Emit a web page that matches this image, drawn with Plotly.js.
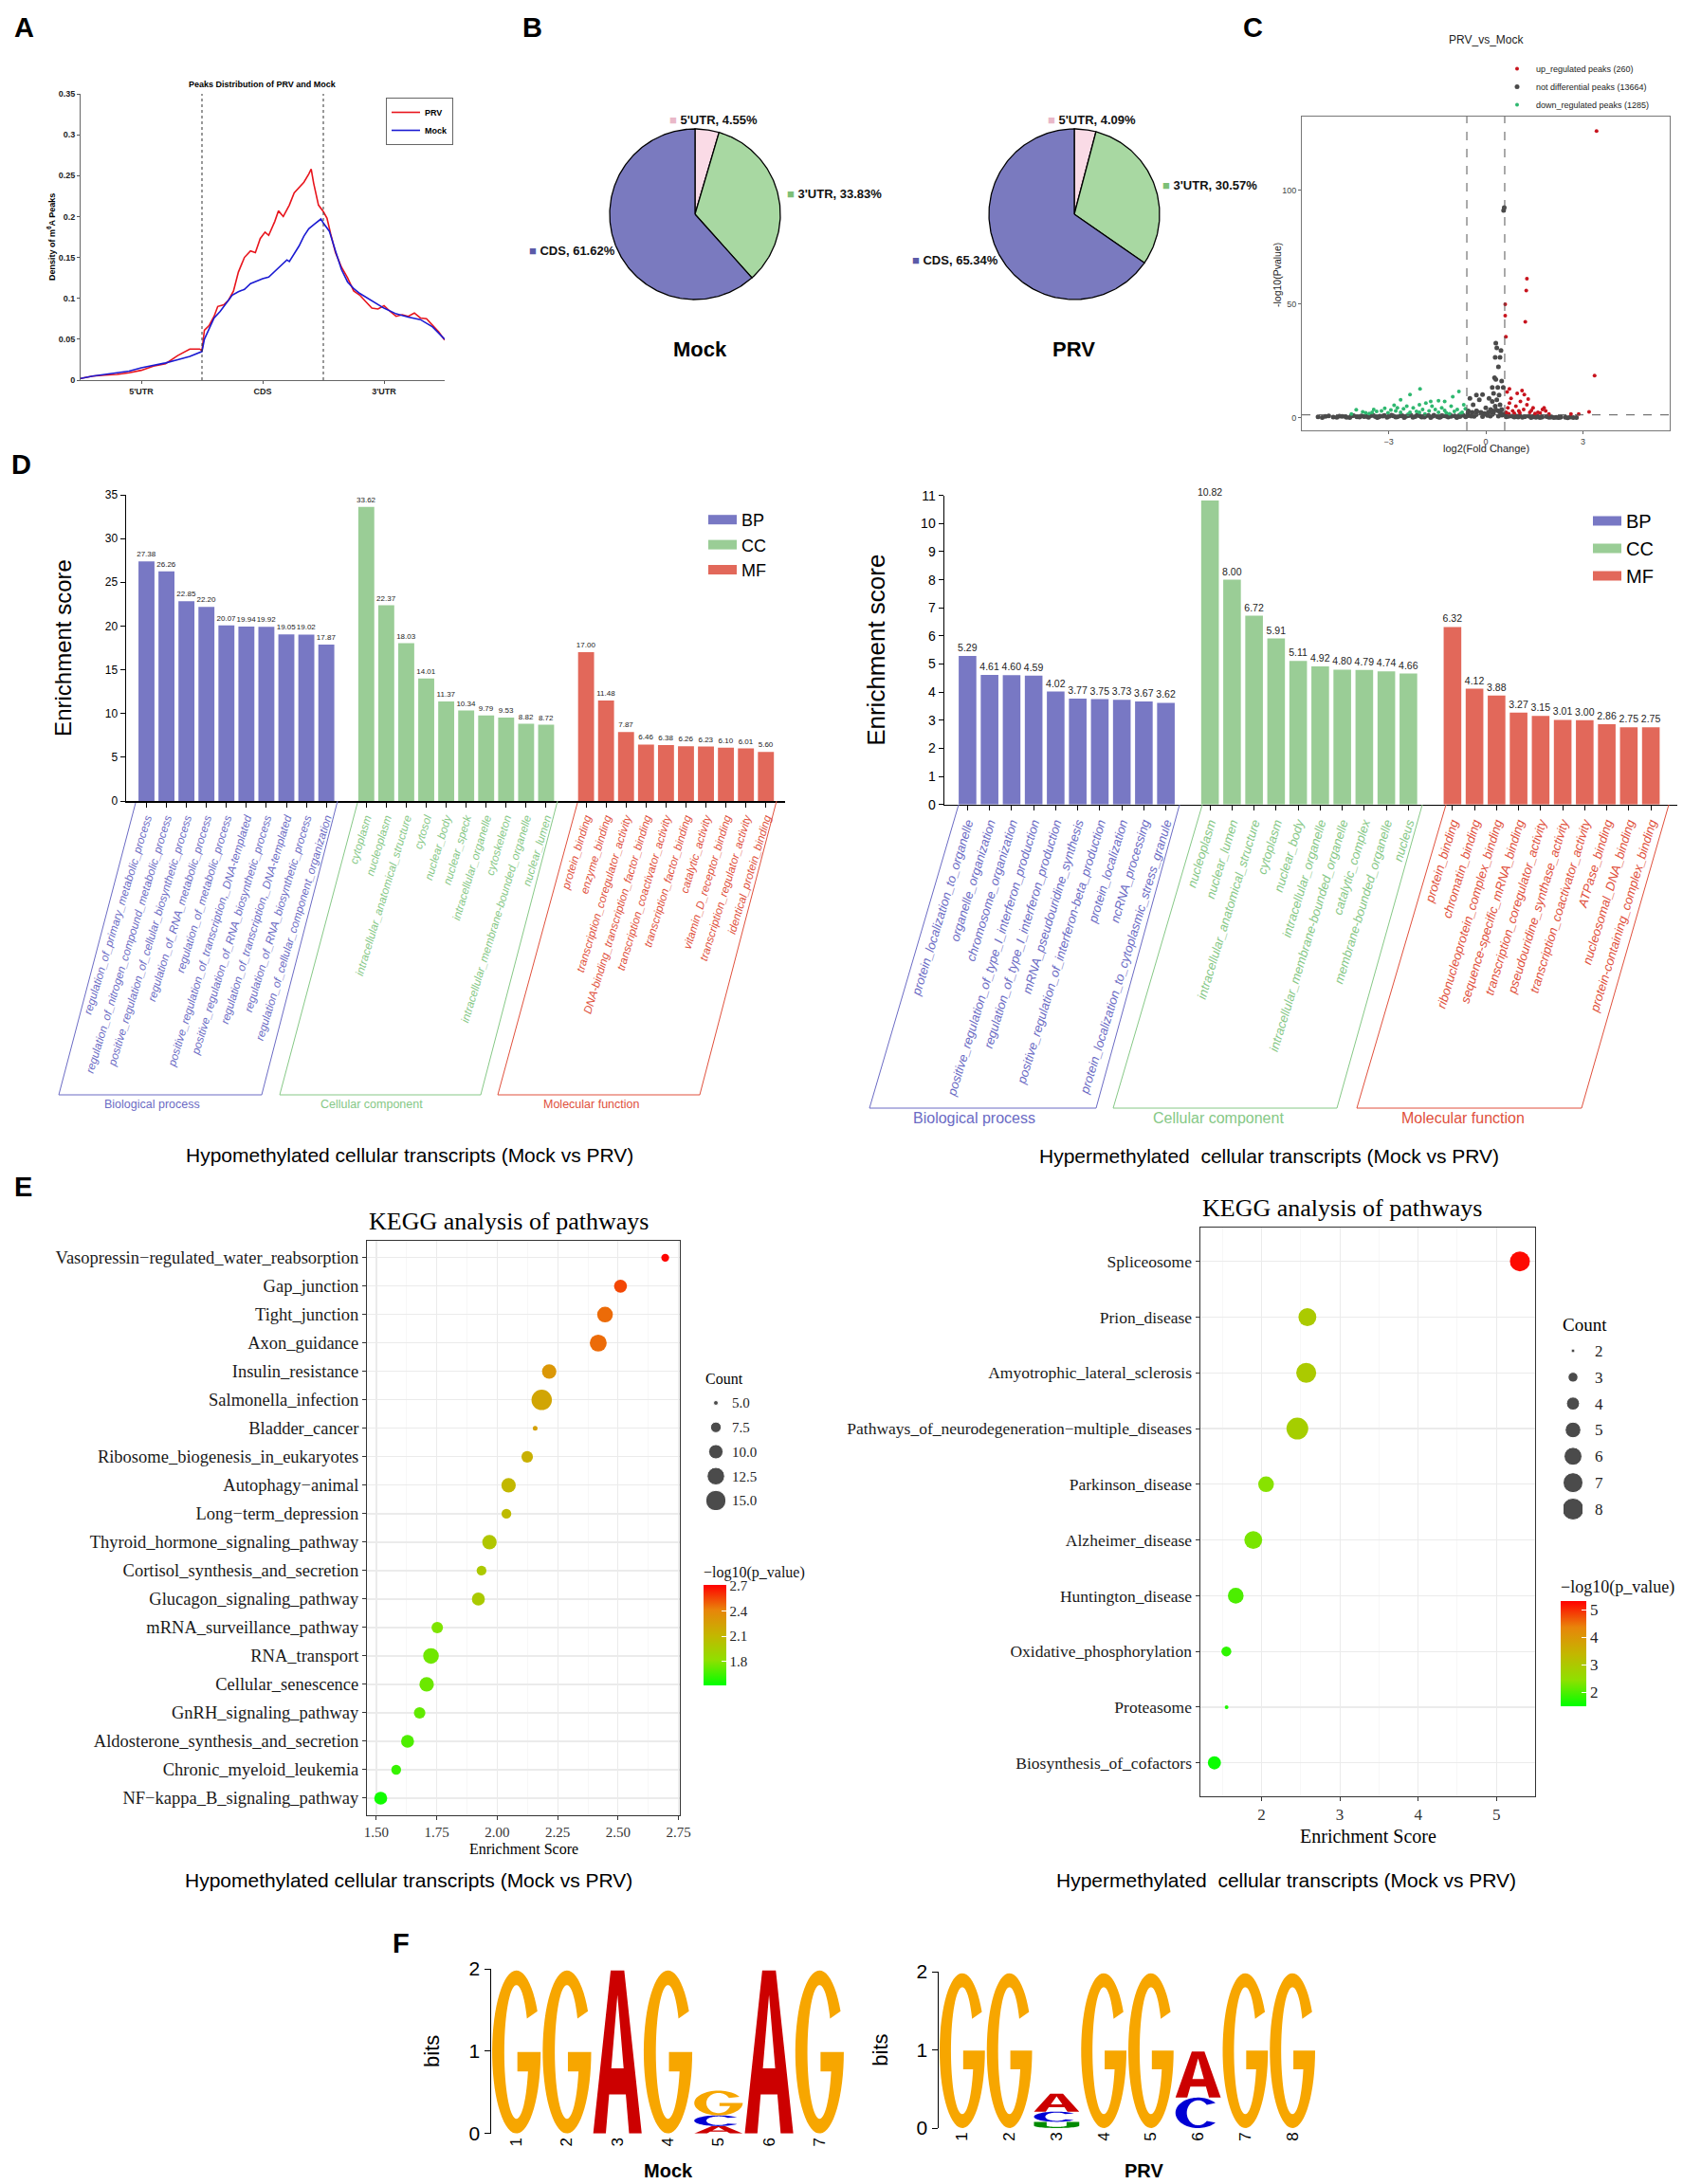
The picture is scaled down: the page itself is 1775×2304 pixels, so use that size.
<!DOCTYPE html>
<html><head><meta charset="utf-8">
<script src="https://cdn.plot.ly/plotly-3.0.1.min.js"></script>
<style>html,body{margin:0;padding:0;background:#fff}#fig{width:1775px;height:2304px}</style>
</head><body><div id="fig"></div>
<script>
// ================= DATA =================
// Panel A: m6A peak density along transcripts
const profileTickPos = [0.5, 1.5, 2.5];
const profileTickText = ["5'UTR", "CDS", "3'UTR"];
const densityTicks = [0, 0.05, 0.1, 0.15, 0.2, 0.25, 0.3, 0.35];
const prvPos = [0,0.1,0.2,0.3,0.4,0.5,0.6,0.7,0.8,0.9,0.98,1.0,1.02,1.06,1.1,1.13,1.18,1.22,1.26,1.3,1.35,1.4,1.44,1.48,1.52,1.55,1.6,1.63,1.67,1.72,1.76,1.8,1.84,1.88,1.9,1.92,1.96,2.0,2.03,2.06,2.1,2.15,2.2,2.25,2.3,2.35,2.4,2.45,2.5,2.55,2.6,2.65,2.7,2.75,2.8,2.85,2.9,2.95,3.0];
const prvDensity = [0.002,0.005,0.006,0.007,0.009,0.012,0.017,0.020,0.030,0.038,0.038,0.036,0.061,0.067,0.078,0.090,0.092,0.098,0.109,0.132,0.150,0.158,0.156,0.173,0.181,0.177,0.194,0.207,0.200,0.214,0.229,0.235,0.242,0.252,0.258,0.241,0.214,0.206,0.198,0.179,0.156,0.138,0.125,0.109,0.104,0.096,0.088,0.087,0.091,0.084,0.078,0.080,0.078,0.082,0.076,0.075,0.067,0.059,0.049];
const mockPos = [0,0.1,0.2,0.3,0.4,0.5,0.6,0.7,0.8,0.9,1.0,1.02,1.06,1.1,1.15,1.2,1.25,1.3,1.35,1.4,1.45,1.5,1.55,1.6,1.65,1.7,1.72,1.76,1.8,1.84,1.88,1.92,1.96,1.98,2.0,2.05,2.1,2.15,2.2,2.25,2.3,2.4,2.5,2.6,2.7,2.8,2.9,3.0];
const mockDensity = [0.002,0.005,0.007,0.009,0.011,0.015,0.018,0.021,0.025,0.029,0.035,0.050,0.063,0.076,0.084,0.094,0.104,0.108,0.111,0.118,0.121,0.124,0.126,0.133,0.140,0.147,0.145,0.155,0.164,0.176,0.185,0.190,0.195,0.197,0.192,0.182,0.158,0.135,0.120,0.112,0.106,0.097,0.088,0.081,0.077,0.074,0.065,0.050];

// Panel B: peak distribution pies
const regionLabels = ["5'UTR", "3'UTR", "CDS"];
const mockPct = [4.55, 33.83, 61.62];
const prvPct = [4.09, 30.57, 65.34];

// Panel C: volcano
const volcanoGroups = ['up_regulated peaks', 'not differential peaks', 'down_regulated peaks'];
const volcanoCounts = [260, 13664, 1285];
const upX = [3.42,1.27,1.25,1.22,0.60,0.60,0.62,3.36,3.19,2.87,2.63,0.73,0.97,1.19,0.78,1.07,1.27,1.46,1.75,1.85,0.68,0.83,0.93,1.17,1.36,1.61,1.95,0.63,0.73,1.02,1.80,1.31,1.12,0.66,0.88,1.52,1.68,0.71,1.41,1.05];
const upY = [126,61.2,56,42.2,49.9,44.9,35.6,18.6,2.6,1.7,1.7,12.7,10.7,10.2,8.6,7.2,5.8,4.4,3.7,3.0,4.4,3.0,5.1,3.7,2.4,2.4,1.7,2.4,6.5,3.0,4.4,8.3,12.0,11.4,2.0,1.9,2.1,1.8,3.3,2.2];
const nsX = [-5.18,-4.95,-4.71,-4.52,-4.33,-4.16,-3.98,-3.84,-3.69,-3.55,-3.41,-3.27,-3.13,-2.99,-2.86,-2.73,-2.58,-2.45,-2.31,-2.18,-2.04,-1.91,-1.77,-1.63,-1.5,-1.36,-1.23,-1.09,-0.96,-0.82,-0.69,-0.55,-0.42,-0.28,-0.15,-0.03,0.08,0.19,0.31,0.44,0.56,0.68,0.81,0.93,1.06,1.19,1.33,1.47,1.6,1.74,1.88,2.03,2.17,2.32,2.46,2.61,
  -5.05,-4.6,-4.2,-3.9,-3.62,-3.35,-3.05,-2.78,-2.52,-2.25,-1.98,-1.7,-1.44,-1.16,-0.89,-0.62,-0.36,-0.1,0.14,0.39,0.63,0.88,1.13,1.4,1.67,1.95,2.24,2.53,2.8,
  -4.85,-4.44,-4.08,-3.76,-3.47,-3.18,-2.91,-2.64,-2.38,-2.12,-1.86,-1.6,-1.33,-1.07,-0.8,-0.54,-0.3,-0.05,0.2,0.45,0.7,0.96,1.21,1.47,1.73,2.0,2.28,-4.3,-3.3,-2.5,-1.9,-1.4,-0.9,-0.45,0.05,0.5,1.0,1.55,2.1,2.7,
  0.31,0.34,0.47,0.29,0.44,0.39,0.27,0.31,0.49,0.20,0.37,0.54,-0.29,-0.10,-0.49,-0.20,0.24,0.41,0.10,0.34,-0.39,0.20,0.44,0.00,0.29,0.49,-0.29,0.15,0.39,-0.54,-0.15,0.24,0.57,0.55];
const nsY = [0.4,0.6,0.3,0.7,0.5,0.8,0.4,0.9,0.6,1.0,0.5,0.8,1.1,0.6,0.9,0.4,1.0,0.7,1.2,0.5,0.9,0.6,1.1,0.8,0.5,1.0,0.7,1.2,0.9,1.1,1.1,2.0,2.4,2.9,2.2,1.8,2.5,3.1,3.6,2.8,1.7,1.0,0.8,0.6,0.9,0.5,0.7,0.4,0.6,0.3,0.5,0.4,0.2,0.3,0.2,0.3,
  0.1,0.2,0.15,0.3,0.2,0.1,0.25,0.3,0.15,0.2,0.35,0.1,0.25,0.3,0.2,0.4,0.6,0.5,0.7,0.8,0.4,0.3,0.2,0.15,0.1,0.2,0.1,0.05,0.1,
  0.9,0.6,1.0,0.5,1.1,0.7,1.2,0.9,1.0,1.2,0.8,1.2,0.9,0.6,0.5,1.0,1.4,1.9,1.5,2.3,0.6,0.8,0.5,0.6,0.4,0.3,0.25,0.2,0.45,0.55,0.3,0.35,0.25,0.8,1.1,1.2,0.35,0.2,0.15,0.12,
  32.8,30.7,29.6,26.6,26.6,22.4,17.6,16.9,16.2,13.4,13.4,13.4,10.0,10.2,8.6,7.9,10.7,10.0,8.6,7.9,5.8,7.2,5.8,4.4,5.1,3.7,3.0,3.7,3.0,3.0,2.4,2.4,92.4,91.2];
const downX = [-2.03,-0.83,-2.34,-1.02,-1.46,-2.63,-1.85,-1.27,-3.46,-4.00,-3.80,-3.22,-2.93,-2.78,-2.44,-2.24,-2.05,-1.66,-1.07,-0.68,-0.88,-1.27,-1.75,-2.14,-2.63,-3.02,-3.51,-1.36,-0.73,-1.95,-2.54,-3.12,-3.37,-0.63,-1.46,-2.34,-2.73,-3.71,-0.97,-1.56,-2.05,-1.22,-2.83,-1.70,-1.12,-0.78,-1.88,-2.40,-3.60,-4.15];
const downY = [12.7,11.6,10.2,9.3,7.5,7.9,6.5,7.2,3.7,3.6,2.6,3.0,3.5,3.0,5.1,4.4,5.8,5.1,5.1,5.8,3.7,3.3,3.0,2.8,2.4,2.2,2.4,4.4,2.4,3.7,4.0,4.2,2.8,4.0,2.4,2.4,4.4,2.2,2.8,3.7,2.4,2.2,5.5,7.2,1.8,1.9,1.7,1.6,1.9,1.7];

// Panel D: GO enrichment
const goGroups = ['BP', 'CC', 'MF'];
const goGroupNames = ['Biological process', 'Cellular component', 'Molecular function'];
const hypoBPTerms = ['regulation_of_primary_metabolic_process','regulation_of_nitrogen_compound_metabolic_process','positive_regulation_of_cellular_biosynthetic_process','regulation_of_RNA_metabolic_process','regulation_of_metabolic_process','positive_regulation_of_transcription,_DNA-templated','positive_regulation_of_RNA_biosynthetic_process','regulation_of_transcription,_DNA-templated','regulation_of_RNA_biosynthetic_process','regulation_of_cellular_component_organization'];
const hypoBPScores = [27.38,26.26,22.85,22.20,20.07,19.94,19.92,19.05,19.02,17.87];
const hypoCCTerms = ['cytoplasm','nucleoplasm','intracellular_anatomical_structure','cytosol','nuclear_body','nuclear_speck','intracellular_organelle','cytoskeleton','intracellular_membrane-bounded_organelle','nuclear_lumen'];
const hypoCCScores = [33.62,22.37,18.03,14.01,11.37,10.34,9.79,9.53,8.82,8.72];
const hypoMFTerms = ['protein_binding','enzyme_binding','transcription_coregulator_activity','DNA-binding_transcription_factor_binding','transcription_coactivator_activity','transcription_factor_binding','catalytic_activity','vitamin_D_receptor_binding','transcription_regulator_activity','identical_protein_binding'];
const hypoMFScores = [17.00,11.48,7.87,6.46,6.38,6.26,6.23,6.10,6.01,5.60];
const hyperBPTerms = ['protein_localization_to_organelle','organelle_organization','chromosome_organization','positive_regulation_of_type_I_interferon_production','regulation_of_type_I_interferon_production','mRNA_pseudouridine_synthesis','positive_regulation_of_interferon-beta_production','protein_localization','ncRNA_processing','protein_localization_to_cytoplasmic_stress_granule'];
const hyperBPScores = [5.29,4.61,4.60,4.59,4.02,3.77,3.75,3.73,3.67,3.62];
const hyperCCTerms = ['nucleoplasm','nuclear_lumen','intracellular_anatomical_structure','cytoplasm','nuclear_body','intracellular_organelle','intracellular_membrane-bounded_organelle','catalytic_complex','membrane-bounded_organelle','nucleus'];
const hyperCCScores = [10.82,8.00,6.72,5.91,5.11,4.92,4.80,4.79,4.74,4.66];
const hyperMFTerms = ['protein_binding','chromatin_binding','ribonucleoprotein_complex_binding','sequence-specific_mRNA_binding','transcription_coregulator_activity','pseudouridine_synthase_activity','transcription_coactivator_activity','ATPase_binding','nucleosomal_DNA_binding','protein-containing_complex_binding'];
const hyperMFScores = [6.32,4.12,3.88,3.27,3.15,3.01,3.00,2.86,2.75,2.75];

// Panel E: KEGG
const hypoPathways = ['Vasopressin−regulated_water_reabsorption','Gap_junction','Tight_junction','Axon_guidance','Insulin_resistance','Salmonella_infection','Bladder_cancer','Ribosome_biogenesis_in_eukaryotes','Autophagy−animal','Long−term_depression','Thyroid_hormone_signaling_pathway','Cortisol_synthesis_and_secretion','Glucagon_signaling_pathway','mRNA_surveillance_pathway','RNA_transport','Cellular_senescence','GnRH_signaling_pathway','Aldosterone_synthesis_and_secretion','Chronic_myeloid_leukemia','NF−kappa_B_signaling_pathway'];
const hypoScore = [2.695,2.510,2.446,2.418,2.215,2.184,2.157,2.124,2.047,2.038,1.968,1.935,1.922,1.752,1.726,1.708,1.679,1.629,1.582,1.518];
const hypoCount = [6,9,11,12,10,15,5,8,10,7,10,7,9,8,11,10,8,9,7,9];
const hypoLogP = [2.70,2.55,2.47,2.47,2.30,2.22,2.25,2.15,2.10,2.08,2.00,1.98,1.97,1.78,1.75,1.74,1.72,1.68,1.63,1.55];
const hypoCountBreaks = [5, 7.5, 10, 12.5, 15];
const hypoLogPTicks = [1.8, 2.1, 2.4, 2.7];
const hyperPathways = ['Spliceosome','Prion_disease','Amyotrophic_lateral_sclerosis','Pathways_of_neurodegeneration−multiple_diseases','Parkinson_disease','Alzheimer_disease','Huntington_disease','Oxidative_phosphorylation','Proteasome','Biosynthesis_of_cofactors'];
const hyperScore = [5.30,2.585,2.57,2.457,2.057,1.894,1.67,1.55,1.553,1.397];
const hyperCount = [7,6,7,8,5,6,5,3,2,4];
const hyperLogP = [5.25,2.95,2.95,2.85,2.40,2.30,2.00,1.80,1.70,1.55];
const hyperCountBreaks = [2, 3, 4, 5, 6, 7, 8];
const hyperLogPTicks = [2, 3, 4, 5];

// Panel F: motif logos (stacks bottom -> top: [letter, bits])
const mockLogo = [[['G',1.98]],[['G',1.98]],[['A',1.98]],[['G',1.98]],[['A',0.09],['C',0.13],['G',0.30]],[['A',1.98]],[['G',1.98]]];
const prvLogo = [[['G',1.98]],[['G',1.98]],[['U',0.08],['C',0.13],['A',0.23]],[['G',1.98]],[['G',1.98]],[['C',0.39],['A',0.59]],[['G',1.98]],[['G',1.98]]];

// ================= STYLE / HELPERS =================
const W = 1775, H = 2304;
const SANS = 'Liberation Sans, Arial, Helvetica, sans-serif';
const NARROW = 'Liberation Sans Narrow, Arial Narrow, Liberation Sans, Arial, sans-serif';
const SERIF = 'Liberation Serif, Times New Roman, Times, serif';
const px = x => x / W, py = y => 1 - y / H;
const annotations = [], shapes = [], traces = [];
function ann(text, x, y, o) {
  const a = {text, x: px(x), y: py(y), xref: 'paper', yref: 'paper', showarrow: false,
    xanchor: 'center', yanchor: 'middle', font: {family: SANS, size: 12, color: '#000'}};
  annotations.push(Object.assign(a, o || {}));
}
const noGrid = {showgrid: false, zeroline: false};
const L = {width: W, height: H, margin: {l: 0, r: 0, t: 0, b: 0}, paper_bgcolor: '#fff', plot_bgcolor: '#fff',
  barmode: 'overlay', showlegend: true, font: {family: SANS, color: '#000'}, annotations, shapes};

// panel letters
[['A',25,29],['B',561,29],['C',1321,29],['D',22,490],['E',24,1252],['F',423,2050]].forEach(p =>
  ann('<b>' + p[0] + '</b>', p[1], p[2], {font: {family: SANS, size: 29, color: '#000'}}));

// ================= PANEL A =================
traces.push({type: 'scatter', mode: 'lines', x: prvPos, y: prvDensity, name: 'PRV', line: {color: '#e8141c', width: 1.6},
  xaxis: 'x', yaxis: 'y', legend: 'legend'});
traces.push({type: 'scatter', mode: 'lines', x: mockPos, y: mockDensity, name: 'Mock', line: {color: '#1a1ad2', width: 1.6},
  xaxis: 'x', yaxis: 'y', legend: 'legend'});
const tfA = {family: SANS, size: 9, weight: 'bold', color: '#222'};
L.xaxis = Object.assign({}, noGrid, {anchor: 'y', domain: [px(85), px(469)], range: [0, 3], tickvals: profileTickPos, ticktext: profileTickText,
  ticks: 'outside', ticklen: 3, tickcolor: '#555', showline: true, linecolor: '#666', tickfont: tfA});
L.yaxis = Object.assign({}, noGrid, {anchor: 'x', domain: [py(401), py(99)], range: [0, 0.35], tickvals: densityTicks,
  ticktext: densityTicks.map(String), ticks: 'outside', ticklen: 3, tickcolor: '#555', showline: true, linecolor: '#666', tickfont: tfA});
[1, 2].forEach(v => shapes.push({type: 'line', xref: 'x', yref: 'y', x0: v, x1: v, y0: 0, y1: 0.35, line: {color: '#333', width: 1, dash: 'dot'}}));
L.legend = {x: px(407), y: py(103), xanchor: 'left', yanchor: 'top', bordercolor: '#666', borderwidth: 1, bgcolor: '#fff',
  font: {family: SANS, size: 9, weight: 'bold'}, itemwidth: 30, tracegroupgap: 0};
ann('<b>Peaks Distribution of PRV and Mock</b>', 277, 89, {font: {family: SANS, size: 9}});
ann('<b>Density of m<sup>6</sup>A Peaks</b>', 54, 250, {textangle: -90, font: {family: SANS, size: 9}});

// ================= PANEL B =================
const regionColors = ['#fadbe6', '#a8d8a2', '#7a7abf'];
const regionMarks = ['#e9b8c8', '#7dbf76', '#5a5aa8'];
function pieTraces(pcts, xa, ya) {
  let cum = 0;
  pcts.forEach((p, i) => {
    const a0 = 90 - 3.6 * cum, a1 = 90 - 3.6 * (cum + p);
    const xs = [0], ys = [0];
    const n = Math.max(4, Math.ceil(Math.abs(a1 - a0)));
    for (let k = 0; k <= n; k++) { const a = (a0 + (a1 - a0) * k / n) * Math.PI / 180; xs.push(Math.cos(a)); ys.push(Math.sin(a)); }
    xs.push(0); ys.push(0);
    traces.push({type: 'scatter', mode: 'lines', x: xs, y: ys, fill: 'toself', fillcolor: regionColors[i],
      line: {color: '#000', width: 1.3}, xaxis: xa, yaxis: ya, showlegend: false, hoverinfo: 'text',
      text: regionLabels[i] + ', ' + p.toFixed(2) + '%'});
    cum += p;
  });
}
pieTraces(mockPct, 'x2', 'y2');
pieTraces(prvPct, 'x3', 'y3');
const pieAxis = (d, anchor) => Object.assign({}, noGrid, {domain: d, anchor, range: [-4 / 3, 4 / 3], visible: false});
L.xaxis2 = pieAxis([px(613), px(853)], 'y2'); L.yaxis2 = pieAxis([py(346), py(106)], 'x2');
L.xaxis3 = pieAxis([px(1013), px(1253)], 'y3'); L.yaxis3 = pieAxis([py(346), py(106)], 'x3');
function pieLabel(pcts, i, x, y) {
  ann('<span style="color:' + regionMarks[i] + '">■</span> <b>' + regionLabels[i] + ', ' + pcts[i].toFixed(2) + '%</b>', x, y,
    {xanchor: 'left', font: {family: SANS, size: 13, color: '#111'}});
}
pieLabel(mockPct, 0, 704, 126); pieLabel(mockPct, 1, 828, 205); pieLabel(mockPct, 2, 556, 264);
pieLabel(prvPct, 0, 1103, 126); pieLabel(prvPct, 1, 1224, 196); pieLabel(prvPct, 2, 960, 274);
ann('<b>Mock</b>', 738, 368, {font: {family: SANS, size: 22}});
ann('<b>PRV</b>', 1132, 368, {font: {family: SANS, size: 22}});

// ================= PANEL C =================
traces.push({type: 'scatter', mode: 'markers', x: nsX, y: nsY, name: volcanoGroups[1] + ' (' + volcanoCounts[1] + ')',
  marker: {color: '#4a4a4a', size: 5}, xaxis: 'x4', yaxis: 'y4', legend: 'legend2', legendrank: 2});
traces.push({type: 'scatter', mode: 'markers', x: downX, y: downY, name: volcanoGroups[2] + ' (' + volcanoCounts[2] + ')',
  marker: {color: '#2fb870', size: 4}, xaxis: 'x4', yaxis: 'y4', legend: 'legend2', legendrank: 3});
traces.push({type: 'scatter', mode: 'markers', x: upX, y: upY, name: volcanoGroups[0] + ' (' + volcanoCounts[0] + ')',
  marker: {color: '#c8141e', size: 4}, xaxis: 'x4', yaxis: 'y4', legend: 'legend2', legendrank: 1});
const tfC = {family: SANS, size: 9, color: '#444'};
L.xaxis4 = Object.assign({}, noGrid, {anchor: 'y4', domain: [px(1373), px(1761)], range: [-5.68, 5.68], tickvals: [-3, 0, 3],
  ticks: 'outside', ticklen: 3, tickcolor: '#666', showline: true, mirror: true, linecolor: '#777', tickfont: tfC});
L.yaxis4 = Object.assign({}, noGrid, {anchor: 'x4', domain: [py(454), py(123)], range: [-5.5, 132.4], tickvals: [0, 50, 100],
  ticks: 'outside', ticklen: 3, tickcolor: '#666', showline: true, mirror: true, linecolor: '#777', tickfont: tfC});
[-0.585, 0.585].forEach(v => shapes.push({type: 'line', xref: 'x4', yref: 'y4', x0: v, x1: v, y0: -5.5, y1: 132.4,
  line: {color: '#555', width: 1, dash: 'dash'}}));
shapes.push({type: 'line', xref: 'x4', yref: 'y4', x0: -5.68, x1: 5.68, y0: 1.3, y1: 1.3, line: {color: '#555', width: 1, dash: 'dash'}});
L.legend2 = {x: px(1580), y: py(58), xanchor: 'left', yanchor: 'top', font: {family: SANS, size: 9, color: '#222'},
  bgcolor: 'rgba(0,0,0,0)', itemwidth: 30, tracegroupgap: 0};
ann('PRV_vs_Mock', 1567, 42, {font: {family: SANS, size: 12, color: '#222'}});
ann('log2(Fold Change)', 1567, 473, {font: {family: SANS, size: 11, color: '#222'}});
ann('-log10(Pvalue)', 1347, 290, {textangle: -90, font: {family: SANS, size: 10.5, color: '#222'}});

// ================= PANEL D =================
const goBarColors = ['#7878c4', '#9acd96', '#e2685a'];
const goTextColors = ['#6b6bc4', '#86c886', '#e0503c'];
function goPanel(termSets, scoreSets, xa, ya, legendName, textSize) {
  const tickvals = [], ticktext = [];
  termSets.forEach((terms, g) => {
    const pos = terms.map((t, i) => g * 11 + i);
    traces.push({type: 'bar', x: pos, y: scoreSets[g], width: 0.8, marker: {color: goBarColors[g]}, name: goGroups[g],
      text: scoreSets[g].map(v => v.toFixed(2)), textposition: 'outside', textangle: 0, constraintext: 'none', cliponaxis: false,
      textfont: {family: NARROW, size: textSize, color: '#222'}, hovertext: terms, showlegend: false, xaxis: xa, yaxis: ya});
    traces.push({type: 'scatter', mode: 'lines', x: [null], y: [null], name: goGroups[g], line: {color: goBarColors[g], width: 10},
      xaxis: xa, yaxis: ya, legend: legendName, hoverinfo: 'skip'});
    pos.forEach((p, i) => { tickvals.push(p); ticktext.push('<span style="color:' + goTextColors[g] + '"><i>' + terms[i] + '</i></span>'); });
  });
  return {tickvals, ticktext};
}
const tkL = goPanel([hypoBPTerms, hypoCCTerms, hypoMFTerms], [hypoBPScores, hypoCCScores, hypoMFScores], 'x5', 'y5', 'legend3', 8);
const tkR = goPanel([hyperBPTerms, hyperCCTerms, hyperMFTerms], [hyperBPScores, hyperCCScores, hyperMFScores], 'x6', 'y6', 'legend4', 10.5);
L.xaxis5 = Object.assign({}, noGrid, {anchor: 'y5', domain: [px(133), px(828)], range: [-1.02, 31.96], tickvals: tkL.tickvals, ticktext: tkL.ticktext,
  tickangle: -73, tickfont: {family: SANS, size: 11.8}, ticks: 'outside', ticklen: 5, tickcolor: '#000', showline: true, linecolor: '#000', linewidth: 1.5});
L.yaxis5 = Object.assign({}, noGrid, {anchor: 'x5', domain: [py(845), py(522)], range: [0, 35], dtick: 5, ticks: 'outside', ticklen: 5,
  tickcolor: '#000', showline: true, linecolor: '#000', linewidth: 1.5, tickfont: {family: NARROW, size: 12},
  title: {text: 'Enrichment score', font: {family: SANS, size: 24}}});
L.xaxis6 = Object.assign({}, noGrid, {anchor: 'y6', domain: [px(996), px(1769)], range: [-1.05, 32.2], tickvals: tkR.tickvals, ticktext: tkR.ticktext,
  tickangle: -73, tickfont: {family: SANS, size: 13.2}, ticks: 'outside', ticklen: 5, tickcolor: '#000', showline: true, linecolor: '#000', linewidth: 1.5});
L.yaxis6 = Object.assign({}, noGrid, {anchor: 'x6', domain: [py(848.7), py(522.7)], range: [0, 11], dtick: 1, ticks: 'outside', ticklen: 5,
  tickcolor: '#000', showline: true, linecolor: '#000', linewidth: 1.5, tickfont: {family: NARROW, size: 14},
  title: {text: 'Enrichment score', font: {family: SANS, size: 26}}});
L.legend3 = {x: px(742), y: py(530), xanchor: 'left', yanchor: 'top', font: {family: SANS, size: 18}, itemwidth: 30, tracegroupgap: 0, bgcolor: 'rgba(0,0,0,0)'};
L.legend4 = {x: px(1675), y: py(530), xanchor: 'left', yanchor: 'top', font: {family: SANS, size: 20}, itemwidth: 30, tracegroupgap: 0, bgcolor: 'rgba(0,0,0,0)'};
function bracket(pts, color) {
  shapes.push({type: 'path', xref: 'paper', yref: 'paper', path: 'M' + pts.map(p => px(p[0]) + ',' + py(p[1])).join('L'),
    line: {color, width: 1}});
}
bracket([[143,847],[62,1155],[276,1155],[356,845]], goTextColors[0]);
bracket([[377,847],[295,1155],[507,1155],[588,845]], goTextColors[1]);
bracket([[609,847],[525,1155],[738,1155],[819,845]], goTextColors[2]);
bracket([[1011,849],[917,1169],[1156,1169],[1244,849]], goTextColors[0]);
bracket([[1268,849],[1174,1169],[1410,1169],[1500,849]], goTextColors[1]);
bracket([[1525,849],[1431,1169],[1668,1169],[1760,849]], goTextColors[2]);
[160, 392, 623].forEach((x, g) => ann(goGroupNames[g], x, 1165, {font: {family: NARROW, size: 12.5, color: goTextColors[g]}}));
[1027, 1285, 1543].forEach((x, g) => ann(goGroupNames[g], x, 1179, {font: {family: NARROW, size: 16, color: goTextColors[g]}}));
ann('Hypomethylated cellular transcripts (Mock vs PRV)', 432, 1218, {font: {family: SANS, size: 21}});
ann('Hypermethylated  cellular transcripts (Mock vs PRV)', 1338, 1219, {font: {family: SANS, size: 21}});

// ================= PANEL E =================
const keggScale = [[0, '#00ff00'], [0.25, '#8fe000'], [0.5, '#c4b600'], [0.75, '#e8850a'], [1, '#ff0000']];
const sizeHypo = c => 5 + 16.5 * Math.pow((c - 5) / 10, 0.7);
const sizeHyper = c => 4 + 19 * Math.pow((c - 2) / 6, 0.6);
traces.push({type: 'scatter', mode: 'markers', x: hypoScore, y: hypoPathways, xaxis: 'x7', yaxis: 'y7', showlegend: false,
  marker: {size: hypoCount.map(sizeHypo), color: hypoLogP, coloraxis: 'coloraxis', line: {width: 0}, opacity: 1},
  customdata: hypoCount, hovertemplate: '%{y}<br>score %{x}<br>count %{customdata}<extra></extra>'});
traces.push({type: 'scatter', mode: 'markers', x: hyperScore, y: hyperPathways, xaxis: 'x9', yaxis: 'y9', showlegend: false,
  marker: {size: hyperCount.map(sizeHyper), color: hyperLogP, coloraxis: 'coloraxis2', line: {width: 0}, opacity: 1},
  customdata: hyperCount, hovertemplate: '%{y}<br>score %{x}<br>count %{customdata}<extra></extra>'});
// size legends
traces.push({type: 'scatter', mode: 'markers', x: hypoCountBreaks.map(() => 0), y: hypoCountBreaks, xaxis: 'x8', yaxis: 'y8', showlegend: false,
  marker: {size: hypoCountBreaks.map(sizeHypo), color: '#000'}, hoverinfo: 'y'});
traces.push({type: 'scatter', mode: 'markers', x: hyperCountBreaks.map(() => 0), y: hyperCountBreaks, xaxis: 'x10', yaxis: 'y10', showlegend: false,
  marker: {size: hyperCountBreaks.map(sizeHyper), color: '#000'}, hoverinfo: 'y'});
function keggX(d, anchor, range, dtick, fs) {
  return {anchor, domain: d, range, dtick, tick0: 0, ticks: 'outside', ticklen: 4, tickcolor: '#333', showline: true, mirror: true,
    linecolor: '#333', linewidth: 1, showgrid: true, gridcolor: '#ebebeb', gridwidth: 1.2, zeroline: false,
    minor: {dtick: dtick / 2, showgrid: true, gridcolor: '#f5f5f5', gridwidth: 0.8},
    tickfont: {family: SERIF, size: fs, color: '#333'}};
}
function keggY(d, anchor, cats, fs) {
  return {anchor, domain: d, type: 'category', categoryorder: 'array', categoryarray: cats, range: [cats.length - 0.4, -0.6],
    ticks: 'outside', ticklen: 4, tickcolor: '#333', showline: true, mirror: true, linecolor: '#333', linewidth: 1,
    showgrid: true, gridcolor: '#ebebeb', gridwidth: 1.2, zeroline: false, tickfont: {family: SERIF, size: fs, color: '#1a1a1a'}};
}
L.xaxis7 = keggX([px(387), px(717)], 'y7', [1.461, 2.7555], 0.25, 15); L.xaxis7.tickformat = '.2f';
L.yaxis7 = keggY([py(1915), py(1308.8)], 'x7', hypoPathways, 18.5);
L.xaxis9 = keggX([px(1265.5), px(1618.5)], 'y9', [1.212, 5.488], 1, 17);
L.yaxis9 = keggY([py(1895), py(1295.4)], 'x9', hyperPathways, 17.5);
const legAxisX = (d, anchor) => Object.assign({}, noGrid, {domain: d, anchor, range: [-1, 1], visible: false});
L.xaxis8 = legAxisX([px(745), px(765)], 'y8');
L.yaxis8 = Object.assign({}, noGrid, {domain: [py(1593), py(1470)], anchor: 'x8', side: 'right', range: [15.97, 4.03],
  tickvals: hypoCountBreaks, ticktext: hypoCountBreaks.map(v => v.toFixed(1)), ticks: '', showline: false, ticklabelstandoff: 6,
  tickfont: {family: SERIF, size: 15, color: '#222'}});
L.xaxis10 = legAxisX([px(1649), px(1669)], 'y10');
L.yaxis10 = Object.assign({}, noGrid, {domain: [py(1607), py(1410)], anchor: 'x10', side: 'right', range: [8.54, 1.46],
  tickvals: hyperCountBreaks, ticktext: hyperCountBreaks.map(String), ticks: '', showline: false, ticklabelstandoff: 12,
  tickfont: {family: SERIF, size: 17, color: '#222'}});
function cbar(x, y, len, thick, ticks, fs) {
  return {x: px(x), xanchor: 'left', xpad: 0, y: py(y), yanchor: 'top', ypad: 0, len, lenmode: 'pixels', thickness: thick,
    thicknessmode: 'pixels', tickvals: ticks, ticktext: ticks.map(String), ticks: 'inside', ticklen: 5, tickcolor: '#fff',
    outlinewidth: 0, tickfont: {family: SERIF, size: fs, color: '#222'},
    title: {text: '−log10(p_value)', side: 'top', font: {family: SERIF, size: fs + 1, color: '#111'}}};
}
L.coloraxis = {cmin: 1.517, cmax: 2.71, colorscale: keggScale, colorbar: cbar(742, 1649, 128.5, 24, hypoLogPTicks, 15)};
L.coloraxis2 = {cmin: 1.49, cmax: 5.32, colorscale: keggScale, colorbar: cbar(1646, 1663, 137, 27, hyperLogPTicks, 17)};
ann('KEGG analysis of pathways', 387, 1288, {xanchor: 'left', font: {family: SERIF, size: 26}});
ann('KEGG analysis of pathways', 1265.5, 1274, {xanchor: 'left', font: {family: SERIF, size: 26}});
ann('Enrichment Score', 552, 1950, {font: {family: SERIF, size: 16}});
ann('Enrichment Score', 1443, 1937, {font: {family: SERIF, size: 20}});
ann('Count', 742, 1454, {xanchor: 'left', font: {family: SERIF, size: 16}});
ann('Count', 1646, 1397, {xanchor: 'left', font: {family: SERIF, size: 19}});
ann('Hypomethylated cellular transcripts (Mock vs PRV)', 431, 1983, {font: {family: SANS, size: 21}});
ann('Hypermethylated  cellular transcripts (Mock vs PRV)', 1356, 1983, {font: {family: SANS, size: 21}});

// ================= PANEL F =================
function ell(cx, cy, rx, ry, a0, a1, n) {
  const pts = [];
  for (let k = 0; k <= n; k++) { const a = (a0 + (a1 - a0) * k / n) * Math.PI / 180; pts.push([cx + rx * Math.cos(a), cy + ry * Math.sin(a)]); }
  return pts;
}
const GLYPHS = {
  G: [[...ell(.5, .5, .5, .5, 30, 360, 60), [0.52, 0.5], [0.52, 0.38], ...ell(.5, .5, .25, .41, 343, 30, 60)]],
  C: [[...ell(.5, .5, .5, .5, 40, 320, 60), ...ell(.5, .5, .25, .41, 320, 40, 60)]],
  A: [[[0, 0], [0.36, 1], [0.64, 1], [1, 0], [0.74, 0], [0.672, 0.24], [0.328, 0.24], [0.26, 0]], [[0.373, 0.4], [0.627, 0.4], [0.5, 0.85]]],
  U: [[[0, 1], [0, 0.4], ...ell(.5, .4, .5, .4, 180, 360, 30), [1, 0.4], [1, 1], [0.72, 1], [0.72, 0.4], ...ell(.5, .4, .22, .22, 360, 180, 30), [0.28, 0.4], [0.28, 1]]]
};
const LETTER_COLORS = {G: '#f7a600', A: '#cc0000', C: '#0000d4', U: '#008a00'};
function logo(stacks, xa, ya) {
  const tops = [];
  stacks.forEach((stack, i) => {
    const pos = i + 1; let base = 0;
    stack.forEach(([letter, h]) => {
      const path = GLYPHS[letter].map(poly => 'M' + poly.map(([u, v]) =>
        (pos - 0.48 + 0.96 * u).toFixed(4) + ',' + (base + h * v).toFixed(4)).join('L') + 'Z').join('');
      shapes.push({type: 'path', xref: xa, yref: ya, path, fillcolor: LETTER_COLORS[letter], fillrule: 'evenodd', line: {width: 0}, layer: 'above'});
      base += h;
    });
    tops.push(base);
  });
  traces.push({type: 'scatter', mode: 'markers', x: stacks.map((s, i) => i + 1), y: tops, marker: {size: 1, opacity: 0},
    xaxis: xa, yaxis: ya, showlegend: false, hovertext: stacks.map(s => s.map(e => e[0] + ':' + e[1]).join(' ')), hoverinfo: 'text'});
}
logo(mockLogo, 'x11', 'y11');
logo(prvLogo, 'x12', 'y12');
function logoX(d, anchor, n) {
  const v = Array.from({length: n}, (_, i) => i + 1);
  return Object.assign({}, noGrid, {domain: d, anchor, range: [0.5, n + 0.5], tickvals: v, ticktext: v.map(String), tickangle: -90,
    ticks: '', showline: false, tickfont: {family: SANS, size: 17}});
}
function logoY(d, anchor) {
  return Object.assign({}, noGrid, {domain: d, anchor, range: [0, 2], tickvals: [0, 1, 2], ticks: 'outside', ticklen: 6,
    tickcolor: '#000', showline: true, linecolor: '#000', linewidth: 1.5, tickfont: {family: SANS, size: 21},
    title: {text: 'bits', font: {family: SANS, size: 22}}});
}
L.xaxis11 = logoX([px(518), px(891)], 'y11', mockLogo.length);
L.yaxis11 = logoY([py(2250.7), py(2077)], 'x11');
L.xaxis12 = logoX([px(990), px(1388)], 'y12', prvLogo.length);
L.yaxis12 = logoY([py(2245), py(2080)], 'x12');
ann('<b>Mock</b>', 705, 2290, {font: {family: SANS, size: 20}});
ann('<b>PRV</b>', 1206, 2290, {font: {family: SANS, size: 20}});

Plotly.newPlot('fig', traces, L, {displayModeBar: false, staticPlot: true});
</script>
</body></html>
